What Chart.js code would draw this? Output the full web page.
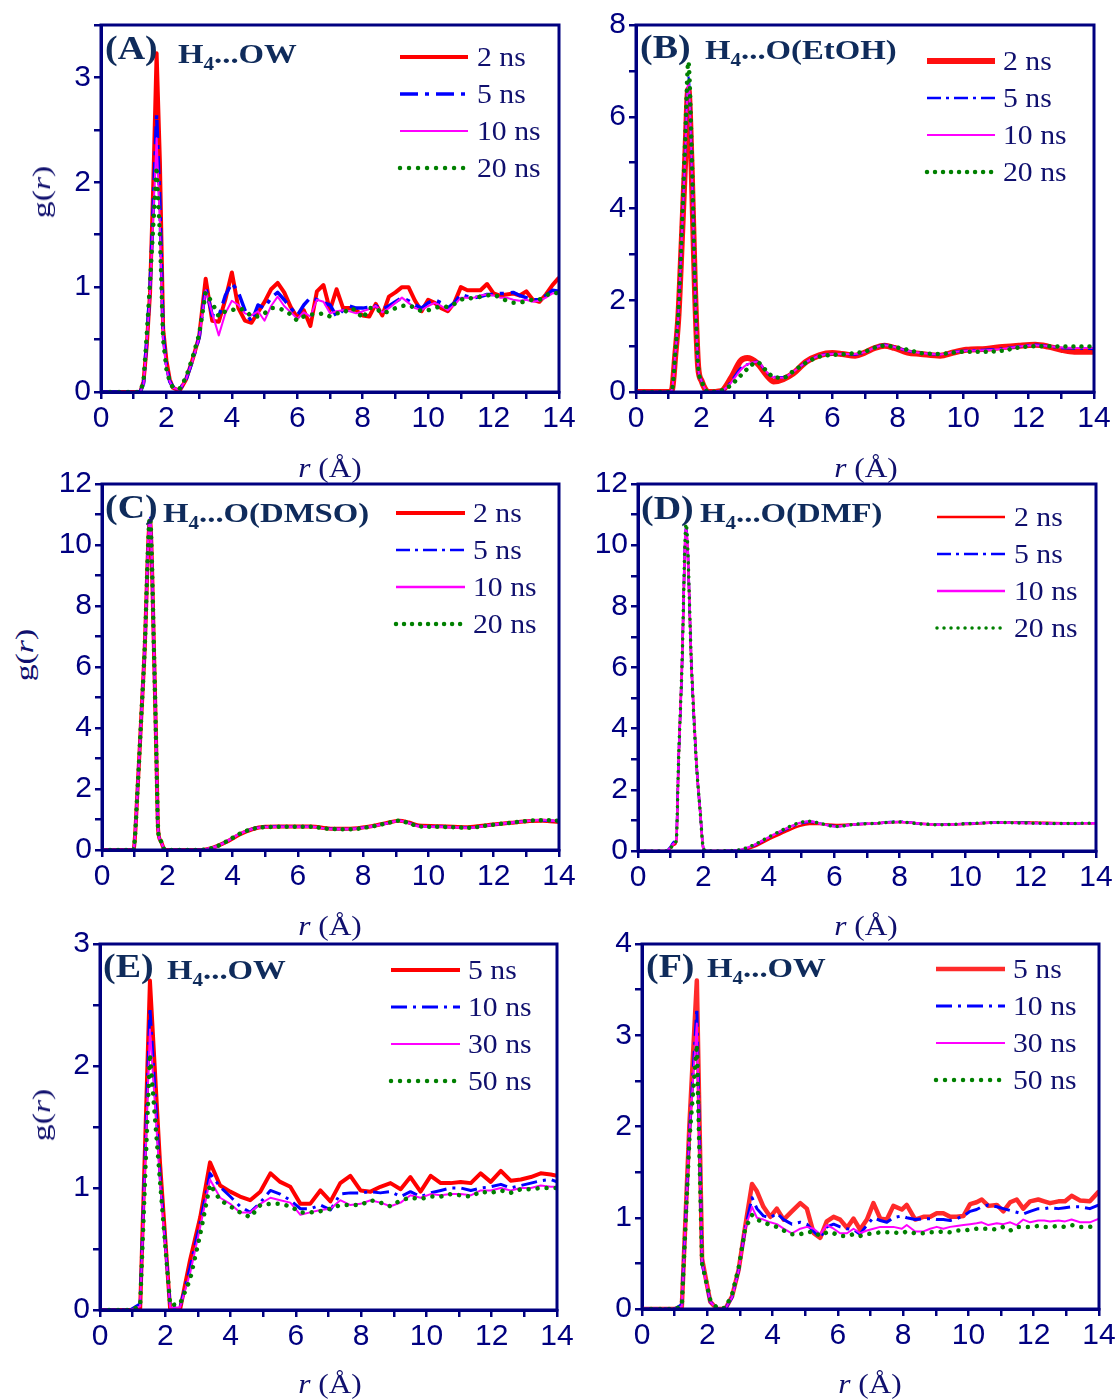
<!DOCTYPE html>
<html>
<head>
<meta charset="utf-8">
<script src="https://cdn.jsdelivr.net/npm/chart.js@4.4.1/dist/chart.umd.min.js"></script>
<style>
  body { margin:0; width:1120px; height:1400px; position:relative; background:#fff; overflow:hidden; }
  canvas.panel { position:absolute; }
  .txt { position:absolute; white-space:nowrap; line-height:1; transform-origin: left center; }
  .lab { font: bold 33px "Liberation Serif"; color:#0f2b5b; transform: translateY(-50%) scaleX(1.15); }
  .ttl { font: bold 28px "Liberation Serif"; color:#0f2b5b; transform: translateY(-50%) scaleX(1.17); }
  .ttl sub { font-size:18px; vertical-align:-7px; line-height:0; }
  .leg { font: 27px "Liberation Serif"; color:#10106e; transform: translateY(-50%) scaleX(1.1); }
  .axt { font: 28px "Liberation Serif"; color:#10106e; transform-origin: center; transform: translate(-50%,-50%) scaleX(1.12); }
  .yt { font: 26px "Liberation Serif"; color:#10106e; transform-origin: center; transform: translate(-50%,-50%) rotate(-90deg) scaleX(1.3); }
  svg.smp { position:absolute; overflow:visible; }
</style>
</head>
<body>
<script>
const NAVY = '#000080';

// legend names
const namesAD = ['2 ns', '5 ns', '10 ns', '20 ns'];
const namesEF = ['5 ns', '10 ns', '30 ns', '50 ns'];

// ---- Panel A: H4...OW ----
const rA = [0, 1.0, 1.2, 1.3, 1.4, 1.5, 1.6, 1.7, 1.8, 1.9, 2.0, 2.1, 2.2,
  2.4, 2.6, 2.8, 3.0, 3.2, 3.4, 3.6, 3.8, 4.0, 4.2, 4.4, 4.6, 4.8, 5.0, 5.2, 5.4, 5.6, 5.8, 6.0,
  6.2, 6.4, 6.6, 6.8, 7.0, 7.2, 7.4, 7.6, 7.8, 8.0, 8.2, 8.4, 8.6, 8.8, 9.0, 9.2, 9.4, 9.6, 9.8, 10.0,
  10.2, 10.4, 10.6, 10.8, 11.0, 11.2, 11.4, 11.6, 11.8, 12.0, 12.2, 12.4, 12.6, 12.8, 13.0,
  13.2, 13.4, 13.6, 13.8, 14.0];
const gA2 = [0, 0, 0, 0.1, 0.45, 0.95, 2.0, 3.23, 2.2, 0.6, 0.3, 0.12, 0.04,
  0.01, 0.12, 0.31, 0.53, 1.08, 0.68, 0.67, 0.88, 1.14, 0.8, 0.68, 0.66, 0.76, 0.86, 0.98, 1.04, 0.95, 0.81, 0.71,
  0.78, 0.63, 0.96, 1.02, 0.78, 0.98, 0.8, 0.8, 0.78, 0.73, 0.72, 0.84, 0.73, 0.91, 0.95, 1.0, 1.0, 0.87, 0.77, 0.88,
  0.85, 0.8, 0.77, 0.85, 1.0, 0.97, 0.97, 0.97, 1.03, 0.94, 0.92, 0.93, 0.94, 0.92, 0.96,
  0.88, 0.86, 0.93, 1.02, 1.09];
const gA5 = [0, 0, 0, 0.08, 0.5, 1.0, 1.8, 2.65, 1.8, 0.55, 0.25, 0.1, 0.05,
  0.02, 0.12, 0.3, 0.52, 1.0, 0.73, 0.72, 0.92, 1.04, 0.95, 0.78, 0.67, 0.83, 0.8, 0.9, 0.95, 0.88, 0.8, 0.73,
  0.83, 0.9, 0.88, 0.85, 0.83, 0.72, 0.78, 0.82, 0.8, 0.8, 0.81, 0.82, 0.79, 0.82, 0.86, 0.9, 0.87, 0.83, 0.8, 0.85,
  0.88, 0.85, 0.8, 0.85, 0.93, 0.91, 0.9, 0.91, 0.93, 0.93, 0.94, 0.94, 0.95, 0.92, 0.9,
  0.88, 0.88, 0.92, 0.97, 0.96];
const gA10 = [0, 0, 0, 0.07, 0.48, 0.95, 1.7, 2.42, 1.6, 0.5, 0.22, 0.1, 0.04,
  0.02, 0.12, 0.3, 0.52, 0.97, 0.75, 0.54, 0.75, 0.87, 0.83, 0.75, 0.73, 0.77, 0.68, 0.82, 0.91, 0.82, 0.76, 0.7,
  0.76, 0.72, 0.88, 0.86, 0.75, 0.77, 0.78, 0.77, 0.75, 0.77, 0.79, 0.82, 0.76, 0.8, 0.85, 0.9, 0.85, 0.8, 0.78, 0.82,
  0.85, 0.82, 0.78, 0.83, 0.9, 0.9, 0.9, 0.92, 0.93, 0.92, 0.9, 0.9, 0.88, 0.87, 0.88,
  0.86, 0.87, 0.9, 0.94, 0.95];
const gA20 = [0, 0, 0, 0.1, 0.55, 1.05, 1.6, 2.15, 1.5, 0.5, 0.22, 0.1, 0.04,
  0.03, 0.14, 0.33, 0.55, 0.95, 0.85, 0.72, 0.77, 0.78, 0.8, 0.78, 0.72, 0.72, 0.75, 0.8, 0.8, 0.78, 0.74, 0.68,
  0.72, 0.74, 0.74, 0.75, 0.72, 0.75, 0.75, 0.8, 0.78, 0.7, 0.8, 0.8, 0.75, 0.77, 0.8, 0.82, 0.83, 0.8, 0.77, 0.78,
  0.8, 0.82, 0.81, 0.84, 0.88, 0.9, 0.89, 0.91, 0.92, 0.93, 0.9, 0.87, 0.85, 0.85, 0.87,
  0.88, 0.88, 0.92, 0.95, 0.94];

// ---- Panel B: H4...O(EtOH) ----
const rB = [0, 1.0, 1.1, 1.2, 1.3, 1.4, 1.5, 1.6, 1.7, 1.8, 1.9, 2.0, 2.1, 2.2, 2.6,
  2.9, 3.2, 3.4, 3.7, 4.0, 4.2, 4.5, 4.8, 5.2, 5.6, 6.0, 6.3, 6.7, 7.0, 7.3,
  7.6, 7.9, 8.3, 8.7, 9.3, 9.7, 10.1, 10.7, 11.2, 11.7, 12.2, 12.6, 13.0, 13.4, 14.0];
const gB2 = [0, 0, 0.05, 0.8, 1.7, 3.3, 5.0, 6.6, 4.9, 2.3, 0.55, 0.25, 0.08, 0, 0.02,
  0.3, 0.68, 0.74, 0.63, 0.36, 0.23, 0.28, 0.4, 0.66, 0.8, 0.85, 0.83, 0.79, 0.86, 0.96,
  1.01, 0.96, 0.86, 0.83, 0.79, 0.86, 0.92, 0.94, 0.98, 1.01, 1.03, 0.99, 0.92, 0.88, 0.88];
const gB5 = [0, 0, 0.05, 0.82, 1.75, 3.4, 5.2, 6.9, 5.1, 2.35, 0.55, 0.25, 0.08, 0, 0.02,
  0.22, 0.52, 0.6, 0.66, 0.42, 0.33, 0.32, 0.44, 0.65, 0.79, 0.83, 0.83, 0.82, 0.87, 0.97,
  1.03, 0.98, 0.9, 0.85, 0.82, 0.87, 0.9, 0.92, 0.95, 0.99, 1.03, 1.0, 0.96, 0.95, 0.94];
const gB10 = [0, 0, 0.05, 0.82, 1.75, 3.4, 5.1, 6.8, 5.0, 2.35, 0.55, 0.25, 0.08, 0, 0.02,
  0.2, 0.48, 0.6, 0.66, 0.43, 0.32, 0.31, 0.44, 0.65, 0.79, 0.83, 0.83, 0.83, 0.87, 0.97,
  1.02, 0.98, 0.9, 0.85, 0.82, 0.87, 0.9, 0.91, 0.94, 0.99, 1.02, 1.0, 0.97, 0.96, 0.96];
const gB20 = [0, 0, 0.04, 0.85, 1.8, 3.5, 5.4, 7.2, 5.3, 2.4, 0.55, 0.25, 0.08, 0, 0.03,
  0.15, 0.36, 0.5, 0.65, 0.45, 0.33, 0.31, 0.45, 0.64, 0.77, 0.81, 0.82, 0.85, 0.88, 0.97,
  1.01, 0.98, 0.92, 0.85, 0.83, 0.86, 0.88, 0.88, 0.9, 0.97, 1.0, 1.0, 0.99, 0.99, 0.99];

// ---- Panel C: H4...O(DMSO) ----
const rC = [0, 0.96, 1.1, 1.2, 1.3, 1.47, 1.6, 1.67, 1.72, 1.8, 1.93, 3.0, 3.4, 3.8, 4.2,
  4.6, 5.0, 5.4, 5.8, 6.4, 7.0, 7.6, 8.2, 8.7, 9.1, 9.4, 9.7, 10.4, 11.2, 11.9, 12.5, 13.1, 13.5, 14.0];
const gC2 = [0, 0, 2.2, 4.3, 6.4, 10.8, 6.2, 2.9, 0.65, 0.3, 0, 0, 0.08, 0.26, 0.5,
  0.68, 0.76, 0.77, 0.77, 0.77, 0.7, 0.7, 0.77, 0.88, 0.96, 0.9, 0.8, 0.78, 0.75, 0.83, 0.89, 0.95, 0.96, 0.92];
const gC5 = [0, 0, 2.2, 4.3, 6.4, 10.9, 6.2, 2.9, 0.65, 0.3, 0, 0, 0.08, 0.27, 0.51,
  0.69, 0.76, 0.77, 0.76, 0.76, 0.7, 0.69, 0.76, 0.87, 0.96, 0.89, 0.79, 0.77, 0.74, 0.82, 0.89, 0.96, 0.97, 0.94];
const gC10 = [0, 0, 2.2, 4.3, 6.4, 10.85, 6.2, 2.9, 0.65, 0.3, 0, 0, 0.08, 0.27, 0.52,
  0.69, 0.75, 0.76, 0.76, 0.76, 0.69, 0.69, 0.76, 0.87, 0.96, 0.88, 0.78, 0.76, 0.73, 0.82, 0.89, 0.96, 0.98, 0.95];
const gC20 = [0, 0, 2.2, 4.3, 6.4, 10.9, 6.2, 2.9, 0.65, 0.3, 0, 0, 0.07, 0.27, 0.52,
  0.69, 0.75, 0.76, 0.76, 0.76, 0.69, 0.68, 0.76, 0.87, 0.96, 0.88, 0.78, 0.76, 0.73, 0.82, 0.89, 0.96, 0.98, 0.96];

// ---- Panel D: H4...O(DMF) ----
const rD = [0, 0.87, 1.0, 1.1, 1.17, 1.24, 1.34, 1.47, 1.64, 1.78, 1.9, 2.0, 2.1, 3.0, 3.5,
  4.0, 4.5, 4.95, 5.25, 5.55, 6.05, 6.6, 7.2, 8.0, 8.6, 9.2, 10.0, 11.0, 12.0, 13.0, 14.0];
const gD2 = [0, 0, 0.1, 0.2, 0.3, 2.96, 5.9, 10.5, 5.9, 2.96, 1.3, 0.08, 0, 0, 0.12,
  0.38, 0.63, 0.82, 0.88, 0.88, 0.85, 0.87, 0.9, 0.95, 0.9, 0.86, 0.88, 0.93, 0.93, 0.91, 0.91];
const gD5 = [0, 0, 0.15, 0.3, 0.45, 2.96, 5.9, 10.6, 5.9, 2.96, 1.3, 0.08, 0, 0.02, 0.16,
  0.44, 0.7, 0.9, 0.96, 0.9, 0.81, 0.87, 0.9, 0.96, 0.9, 0.86, 0.89, 0.93, 0.92, 0.9, 0.91];
const gD10 = [0, 0, 0.12, 0.25, 0.35, 2.96, 5.9, 10.6, 5.9, 2.96, 1.3, 0.08, 0, 0.02, 0.17,
  0.45, 0.72, 0.92, 0.97, 0.9, 0.8, 0.87, 0.9, 0.95, 0.9, 0.86, 0.89, 0.93, 0.91, 0.9, 0.91];
const gD20 = [0, 0, 0.1, 0.25, 0.35, 2.96, 5.9, 10.7, 5.9, 2.96, 1.3, 0.08, 0, 0.02, 0.18,
  0.46, 0.73, 0.93, 0.97, 0.91, 0.8, 0.87, 0.9, 0.95, 0.89, 0.86, 0.89, 0.93, 0.91, 0.9, 0.91];

// ---- Panel E: H4...OW (long runs) ----
const rE = [0, 0.92, 1.23, 1.53, 1.84, 2.15, 2.45, 2.76, 3.07, 3.37, 3.68, 3.99, 4.29, 4.6, 4.91,
  5.22, 5.52, 5.83, 6.14, 6.44, 6.75, 7.06, 7.36, 7.67, 7.98, 8.29, 8.59, 8.9, 9.21, 9.51,
  9.82, 10.13, 10.44, 10.74, 11.05, 11.36, 11.66, 11.97, 12.28, 12.58, 12.89, 13.2, 13.5, 13.81, 14.0];
const gE5 = [0, 0, 0, 2.7, 1.2, 0, 0, 0.41, 0.76, 1.21, 1.02, 0.97, 0.93, 0.9, 0.97,
  1.12, 1.05, 1.01, 0.87, 0.87, 0.98, 0.89, 1.04, 1.1, 0.98, 0.97, 1.01, 1.04, 0.99, 1.09,
  0.97, 1.1, 1.04, 1.04, 1.05, 1.04, 1.12, 1.05, 1.14, 1.06, 1.07, 1.09, 1.12, 1.11, 1.1];
const gE10 = [0, 0, 0.05, 2.48, 1.1, 0.02, 0.02, 0.35, 0.72, 1.12, 1.01, 0.93, 0.85, 0.8, 0.88,
  0.98, 0.95, 0.9, 0.83, 0.83, 0.86, 0.82, 0.95, 0.96, 0.96, 0.97, 0.96, 0.97, 0.93, 0.97,
  0.93, 0.96, 0.98, 1.0, 1.0, 0.98, 1.0, 1.01, 1.03, 1.0, 1.02, 1.04, 1.06, 1.07, 1.05];
const gE30 = [0, 0, 0.03, 2.3, 1.05, 0.02, 0.02, 0.3, 0.68, 1.07, 0.92, 0.87, 0.8, 0.8, 0.87,
  0.92, 0.9, 0.88, 0.78, 0.8, 0.82, 0.83, 0.9, 0.86, 0.87, 0.9, 0.88, 0.85, 0.88, 0.94,
  0.92, 0.95, 0.94, 0.95, 0.95, 0.94, 0.98, 0.98, 1.0, 0.98, 1.0, 1.0, 1.02, 1.01, 1.01];
const gE50 = [0, 0, 0.03, 2.1, 1.05, 0.04, 0.05, 0.25, 0.62, 1.03, 0.9, 0.85, 0.8, 0.76, 0.86,
  0.87, 0.87, 0.85, 0.8, 0.8, 0.81, 0.83, 0.86, 0.86, 0.86, 0.9, 0.88, 0.85, 0.9, 0.92,
  0.91, 0.93, 0.93, 0.95, 0.94, 0.93, 0.97, 0.96, 0.98, 0.96, 0.99, 0.99, 1.0, 1.0, 1.0];

// ---- Panel F: H4...OW (long runs) ----
const rF = [0, 1.0, 1.22, 1.45, 1.68, 1.84, 2.09, 2.3, 2.55, 2.76, 2.96, 3.16, 3.37, 3.52, 3.72,
  3.93, 4.13, 4.34, 4.59, 4.85, 5.05, 5.26, 5.46, 5.66, 5.87, 6.07, 6.28, 6.48, 6.68, 6.89,
  7.09, 7.3, 7.5, 7.7, 7.96, 8.11, 8.37, 8.62, 8.83, 9.03, 9.23, 9.44, 9.64, 9.85, 10.05,
  10.25, 10.41, 10.61, 10.87, 11.07, 11.28, 11.48, 11.68, 11.89, 12.14, 12.32, 12.5, 12.76, 12.96, 13.16,
  13.42, 13.72, 14.0];
const gF5 = [0, 0, 0.02, 2.0, 3.6, 0.55, 0.08, 0, 0, 0.14, 0.43, 0.9, 1.37, 1.29, 1.12,
  1.01, 1.1, 0.98, 1.07, 1.16, 1.1, 0.83, 0.78, 0.96, 1.01, 0.98, 0.89, 0.99, 0.87, 0.98,
  1.16, 0.99, 0.98, 1.13, 1.09, 1.14, 0.98, 1.01, 1.01, 1.05, 1.05, 1.01, 1.01, 1.02, 1.15,
  1.17, 1.2, 1.13, 1.14, 1.07, 1.17, 1.2, 1.1, 1.18, 1.2, 1.18, 1.16, 1.18, 1.18, 1.24,
  1.19, 1.18, 1.29];
const gF10 = [0, 0, 0.05, 1.9, 3.3, 0.5, 0.08, 0, 0, 0.13, 0.42, 0.88, 1.22, 1.1, 1.02,
  1.0, 1.05, 0.98, 0.93, 0.95, 0.93, 0.85, 0.78, 0.9, 0.93, 0.9, 0.88, 0.87, 0.82, 0.92,
  1.0, 0.97, 0.95, 1.0, 1.02, 1.0, 0.98, 0.99, 0.99, 0.98, 0.98, 0.97, 0.99, 1.02, 1.07,
  1.09, 1.12, 1.14, 1.12, 1.1, 1.08, 1.06, 1.04, 1.07, 1.1, 1.1, 1.11, 1.1, 1.11, 1.12,
  1.12, 1.1, 1.14];
const gF30 = [0, 0, 0.03, 1.9, 3.13, 0.5, 0.08, 0, 0, 0.13, 0.42, 0.88, 1.12, 1.0, 0.98,
  0.95, 0.93, 0.88, 0.83, 0.88, 0.9, 0.88, 0.82, 0.92, 0.88, 0.83, 0.83, 0.88, 0.83, 0.86,
  0.88, 0.9, 0.9, 0.9, 0.88, 0.92, 0.85, 0.85, 0.88, 0.9, 0.88, 0.9, 0.91, 0.92, 0.93,
  0.94, 0.95, 0.92, 0.94, 0.93, 0.95, 0.92, 0.98, 0.95, 0.97, 0.97, 0.96, 0.97, 0.96, 0.98,
  0.95, 0.95, 0.99];
const gF50 = [0, 0, 0.03, 1.85, 2.9, 0.5, 0.1, 0.01, 0.01, 0.16, 0.45, 0.88, 1.03, 0.98, 0.95,
  0.92, 0.9, 0.86, 0.82, 0.82, 0.84, 0.85, 0.8, 0.84, 0.83, 0.8, 0.8, 0.82, 0.8, 0.82,
  0.83, 0.84, 0.84, 0.84, 0.83, 0.85, 0.83, 0.83, 0.84, 0.84, 0.85, 0.84, 0.86, 0.86, 0.87,
  0.88, 0.88, 0.88, 0.87, 0.9, 0.86, 0.9, 0.9, 0.9, 0.91, 0.9, 0.9, 0.91, 0.9, 0.92,
  0.9, 0.9, 0.91];

// line looks: red solid, blue dash-dot, magenta thin, green dotted
function looks(redW, blueW, blueDash, magW, greenW, greenGap, redColor) {
  return [
    { color: redColor || '#ff0000', width: redW, dash: [], cap: 'butt' },
    { color: '#0000ff', width: blueW, dash: blueDash, cap: 'butt' },
    { color: '#ff00ff', width: magW, dash: [], cap: 'butt' },
    { color: '#008000', width: greenW, dash: [0.01, greenGap], cap: 'round' }
  ];
}

const panels = [
  { box: [101, 24, 559, 392], yMax: 3.5, yStep: 0.5, yLab: 1, r: rA, ys: [gA2, gA5, gA10, gA20], names: namesAD,
    smooth: false, st: looks(4, 3.5, [18, 7, 4, 7], 2, 4.5, 9),
    lab: ['(A)', 105, 48], ttl: ['OW', 178, 54], leg: [400, 468, 477, [57, 94, 131, 168]],
    xt: [330, 468], yt: [42, 192] },
  { box: [636, 24, 1094, 392], yMax: 8, yStep: 1, yLab: 2, r: rB, ys: [gB2, gB5, gB10, gB20], names: namesAD,
    smooth: true, st: looks(6, 2.5, [14, 5, 3, 5], 2, 4.5, 8, '#ff1010'),
    lab: ['(B)', 640, 47], ttl: ['O(EtOH)', 705, 50], leg: [927, 995, 1003, [61, 98, 135, 172]],
    xt: [866, 468], yt: null },
  { box: [102, 483, 559, 850], yMax: 12, yStep: 1, yLab: 2, r: rC, ys: [gC2, gC5, gC10, gC20], names: namesAD,
    smooth: true, st: looks(4, 2.5, [14, 5, 3, 5], 2.5, 4.5, 8),
    lab: ['(C)', 105, 507], ttl: ['O(DMSO)', 163, 513], leg: [396, 465, 473, [513, 550, 587, 624]],
    xt: [330, 926], yt: [25, 655] },
  { box: [638, 483, 1096, 851], yMax: 12, yStep: 1, yLab: 2, r: rD, ys: [gD2, gD5, gD10, gD20], names: namesAD,
    smooth: true, st: looks(2.5, 2.5, [14, 5, 3, 5], 2.5, 3.5, 7),
    lab: ['(D)', 641, 508], ttl: ['O(DMF)', 700, 513], leg: [937, 1005, 1014, [517, 554, 591, 628]],
    xt: [866, 926], yt: null },
  { box: [100, 943, 557, 1310], yMax: 3, yStep: 0.5, yLab: 1, r: rE, ys: [gE5, gE10, gE30, gE50], names: namesEF,
    smooth: false, st: looks(4, 3, [16, 6, 3, 6], 2, 4.5, 9),
    lab: ['(E)', 103, 966], ttl: ['OW', 167, 970], leg: [391, 460, 468, [970, 1007, 1044, 1081]],
    xt: [330, 1384], yt: [42, 1115] },
  { box: [642, 943, 1099, 1309], yMax: 4, yStep: 0.5, yLab: 1, r: rF, ys: [gF5, gF10, gF30, gF50], names: namesEF,
    smooth: false, st: looks(4.5, 3, [16, 6, 3, 6], 2, 4.5, 9, '#ff2a2a'),
    lab: ['(F)', 646, 966], ttl: ['OW', 707, 968], leg: [936, 1005, 1013, [969, 1006, 1043, 1080]],
    xt: [870, 1384], yt: null }
];

// frame round the plot area
const framePlugin = {
  id: 'frame',
  afterDraw(chart) {
    const { ctx, chartArea: a } = chart;
    ctx.save();
    ctx.strokeStyle = NAVY;
    ctx.lineWidth = 3;
    ctx.strokeRect(a.left, a.top, a.right - a.left, a.bottom - a.top);
    ctx.restore();
  }
};

function addText(cls, html, x, y) {
  const d = document.createElement('div');
  d.className = 'txt ' + cls;
  d.innerHTML = html;
  d.style.left = x + 'px';
  d.style.top = y + 'px';
  document.body.appendChild(d);
  return d;
}

const PADL = 60, PADT = 20, PADR = 26, PADB = 62;

panels.forEach(p => {
  const [l, t, r, b] = p.box;
  const W = r - l + PADL + PADR, H = b - t + PADT + PADB;
  const cv = document.createElement('canvas');
  cv.className = 'panel';
  cv.width = W; cv.height = H;
  cv.style.left = (l - PADL) + 'px';
  cv.style.top = (t - PADT) + 'px';
  cv.style.width = W + 'px';
  cv.style.height = H + 'px';
  document.body.appendChild(cv);

  const tickFont = { family: 'Liberation Sans', size: 30 };
  const grid = { drawOnChartArea: false, drawTicks: true, tickLength: 7, color: NAVY, lineWidth: 2.5 };

  new Chart(cv, {
    type: 'line',
    data: {
      datasets: p.ys.map((g, i) => ({
        label: p.names[i],
        data: p.r.map((x, j) => ({ x: x, y: g[j] })),
        borderColor: p.st[i].color,
        borderWidth: p.st[i].width,
        borderDash: p.st[i].dash,
        borderCapStyle: p.st[i].cap,
        borderJoinStyle: 'round',
        cubicInterpolationMode: p.smooth ? 'monotone' : 'default',
        tension: 0,
        pointRadius: 0,
        fill: false,
        order: 3 - i
      }))
    },
    options: {
      responsive: false,
      animation: false,
      layout: { padding: { top: PADT, right: PADR, left: 0, bottom: 0 } },
      plugins: { legend: { display: false }, tooltip: { enabled: false } },
      scales: {
        x: {
          type: 'linear', min: 0, max: 14,
          afterFit: s => { s.height = PADB; },
          ticks: { stepSize: 1, autoSkip: false, maxRotation: 0, color: NAVY, font: tickFont, padding: 2,
            callback: v => (v % 2 === 0 ? v : '') },
          grid: grid,
          border: { color: NAVY, width: 3 }
        },
        y: {
          min: 0, max: p.yMax,
          afterFit: s => { s.width = PADL; },
          ticks: { stepSize: p.yStep, autoSkip: false, color: NAVY, font: tickFont, padding: 3,
            callback: v => (Math.abs(v / p.yLab - Math.round(v / p.yLab)) < 1e-6 ? v : '') },
          grid: grid,
          border: { color: NAVY, width: 3 }
        }
      }
    },
    plugins: [framePlugin]
  });

  // panel letter and pair name
  addText('lab', p.lab[0], p.lab[1], p.lab[2]);
  addText('ttl', 'H<sub>4</sub>...' + p.ttl[0], p.ttl[1], p.ttl[2]);

  // legend
  const [x1, x2, tx, rows] = p.leg;
  rows.forEach((ry, i) => {
    const s = p.st[i];
    const ns = 'http://www.w3.org/2000/svg';
    const svg = document.createElementNS(ns, 'svg');
    svg.setAttribute('class', 'smp');
    svg.setAttribute('width', x2 - x1);
    svg.setAttribute('height', 12);
    svg.style.left = x1 + 'px';
    svg.style.top = (ry - 6) + 'px';
    const ln = document.createElementNS(ns, 'line');
    ln.setAttribute('x1', 0); ln.setAttribute('y1', 6);
    ln.setAttribute('x2', x2 - x1); ln.setAttribute('y2', 6);
    ln.setAttribute('stroke', s.color);
    ln.setAttribute('stroke-width', s.width);
    if (s.dash.length) ln.setAttribute('stroke-dasharray', s.dash.join(' '));
    ln.setAttribute('stroke-linecap', s.cap);
    svg.appendChild(ln);
    document.body.appendChild(svg);
    addText('leg', p.names[i], tx, ry);
  });

  // axis titles
  addText('axt', '<i>r</i> (Å)', p.xt[0], p.xt[1]);
  if (p.yt) addText('yt', 'g(<i>r</i>)', p.yt[0], p.yt[1]);
});
</script>
</body>
</html>
